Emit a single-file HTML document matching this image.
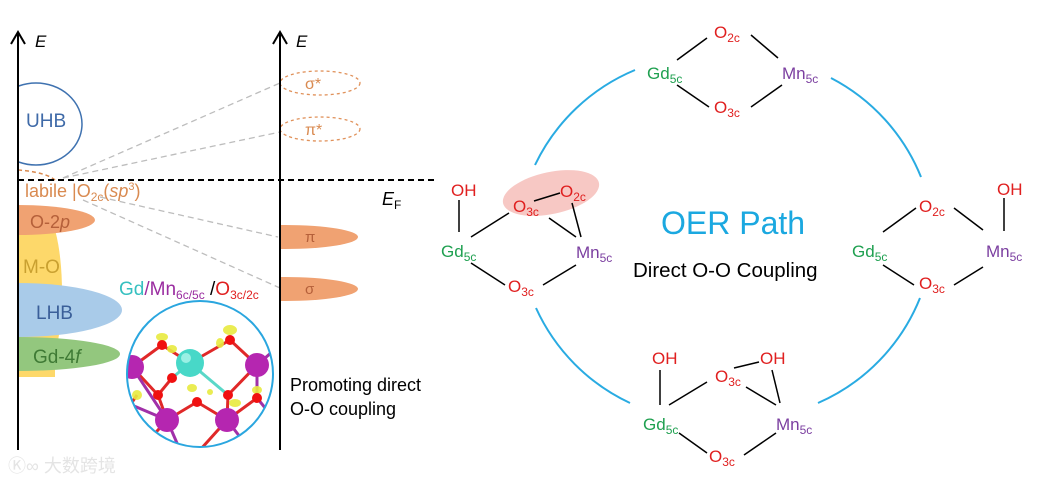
<!DOCTYPE html>
<html><head><meta charset="utf-8"><style>
html,body{margin:0;padding:0;background:#fff;}
svg{display:block;font-family:"Liberation Sans",Arial,sans-serif;}
</style></head><body>
<svg width="1039" height="484" viewBox="0 0 1039 484" xmlns="http://www.w3.org/2000/svg">
<defs>
<clipPath id="rightOfAxis"><rect x="18" y="0" width="400" height="484"/></clipPath>
<clipPath id="rightOfAxis2"><rect x="280" y="0" width="200" height="484"/></clipPath>
<clipPath id="inset"><circle cx="200" cy="374" r="73"/></clipPath>
</defs>

<g clip-path="url(#rightOfAxis)">
  <rect x="10" y="207" width="45" height="170" fill="#fdd86a"/>
  <ellipse cx="40" cy="292" rx="22" ry="85" fill="#fdd86a"/>
  <ellipse cx="18" cy="220" rx="77" ry="15" fill="#f0a272"/>
  <ellipse cx="18" cy="310" rx="104" ry="27" fill="#a9cbe9"/>
  <ellipse cx="18" cy="354" rx="102" ry="17" fill="#93c77e"/>
  <ellipse cx="36" cy="124" rx="46" ry="41" fill="none" stroke="#3f72b0" stroke-width="1.5"/>
  <path d="M18,170 Q45,172 55,180" fill="none" stroke="#d98a50" stroke-width="1.5" stroke-dasharray="4,3"/>
</g>
<text x="26" y="127" font-size="19" fill="#3f6aa8">UHB</text>
<text x="30" y="228" font-size="18" fill="#b5603a">O-2<tspan font-style="italic">p</tspan></text>
<text x="23" y="273" font-size="19" fill="#c9a030">M-O</text>
<text x="36" y="319" font-size="19" fill="#3a5f99">LHB</text>
<text x="33" y="363" font-size="19" fill="#3f7a35">Gd-4<tspan font-style="italic">f</tspan></text>

<g stroke="#bdbdbd" stroke-width="1.3" stroke-dasharray="6,4" fill="none">
  <line x1="63" y1="178" x2="280" y2="83"/>
  <line x1="63" y1="178" x2="280" y2="132"/>
  <line x1="100" y1="197" x2="278" y2="237"/>
  <line x1="83" y1="200" x2="280" y2="288"/>
</g>

<text x="25" y="197" font-size="18" fill="#d98a50">labile |O<tspan font-size="12" dy="4">2c</tspan><tspan dy="-4">(</tspan><tspan font-style="italic">sp</tspan><tspan font-size="11" dy="-7">3</tspan><tspan dy="7">)</tspan></text>

<ellipse cx="320" cy="83" rx="40" ry="12" fill="none" stroke="#e0915a" stroke-width="1.3" stroke-dasharray="3,3"/>
<ellipse cx="320" cy="129" rx="40" ry="12" fill="none" stroke="#e0915a" stroke-width="1.3" stroke-dasharray="3,3"/>
<text x="305" y="89" font-size="16" fill="#d98a50">σ*</text>
<text x="305" y="135" font-size="16" fill="#d98a50">π*</text>
<g clip-path="url(#rightOfAxis2)">
  <ellipse cx="285" cy="237" rx="73" ry="12" fill="#f0a272"/>
  <ellipse cx="285" cy="289" rx="73" ry="12" fill="#f0a272"/>
</g>
<text x="305" y="242" font-size="15" fill="#b5603a">π</text>
<text x="305" y="294" font-size="15" fill="#b5603a">σ</text>

<g stroke="#000" stroke-width="2" fill="none">
  <line x1="18" y1="34" x2="18" y2="450"/>
  <polyline points="11,44 18,32 25,44"/>
  <line x1="280" y1="34" x2="280" y2="450"/>
  <polyline points="273,44 280,32 287,44"/>
</g>
<text x="35" y="47" font-size="17" font-style="italic">E</text>
<text x="296" y="47" font-size="17" font-style="italic">E</text>
<line x1="18" y1="180" x2="437" y2="180" stroke="#000" stroke-width="2" stroke-dasharray="6,4"/>
<text x="382" y="205" font-size="18" font-style="italic">E<tspan font-size="12" font-style="normal" dy="4">F</tspan></text>

<text x="119" y="295" font-size="19"><tspan fill="#36c0c0">Gd</tspan><tspan fill="#9a2ca0">/Mn</tspan><tspan fill="#9a2ca0" font-size="12" dy="4">6c/5c</tspan><tspan fill="#000" dy="-4"> /</tspan><tspan fill="#e02020">O</tspan><tspan fill="#e02020" font-size="12" dy="4">3c/2c</tspan></text>

<g clip-path="url(#inset)">
  <rect x="120" y="295" width="160" height="160" fill="#fff"/>
  <g stroke="#e02828" stroke-width="3">
    <line x1="132" y1="367" x2="162" y2="345"/><line x1="162" y1="345" x2="190" y2="363"/>
    <line x1="257" y1="365" x2="230" y2="340"/><line x1="230" y1="340" x2="190" y2="363"/>
    <line x1="132" y1="367" x2="158" y2="395"/><line x1="158" y1="395" x2="172" y2="378"/>
    <line x1="158" y1="395" x2="167" y2="420"/><line x1="167" y1="420" x2="197" y2="402"/>
    <line x1="197" y1="402" x2="227" y2="420"/><line x1="227" y1="420" x2="228" y2="395"/>
    <line x1="228" y1="395" x2="257" y2="365"/><line x1="257" y1="398" x2="227" y2="420"/>
    <line x1="167" y1="420" x2="140" y2="450"/><line x1="227" y1="420" x2="200" y2="450"/>
    <line x1="137" y1="395" x2="120" y2="420"/>
  </g>
  <g stroke="#a030a8" stroke-width="3">
    <line x1="132" y1="367" x2="120" y2="340"/><line x1="257" y1="365" x2="280" y2="345"/>
    <line x1="132" y1="367" x2="167" y2="420"/><line x1="257" y1="365" x2="257" y2="398"/>
    <line x1="167" y1="420" x2="180" y2="450"/><line x1="227" y1="420" x2="250" y2="450"/>
    <line x1="257" y1="398" x2="275" y2="420"/><line x1="120" y1="400" x2="167" y2="420"/>
  </g>
  <g stroke="#5ad8c8" stroke-width="3">
    <line x1="190" y1="363" x2="228" y2="395"/><line x1="190" y1="363" x2="172" y2="378"/>
  </g>
  <g fill="#b526b0">
    <circle cx="132" cy="367" r="12"/><circle cx="257" cy="365" r="12"/>
    <circle cx="167" cy="420" r="12"/><circle cx="227" cy="420" r="12"/>
  </g>
  <circle cx="190" cy="363" r="14" fill="#48d8c8"/>
  <circle cx="186" cy="358" r="5" fill="#9af0e4"/>
  <g fill="#e8ea40" opacity="0.9">
    <ellipse cx="162" cy="337" rx="6" ry="4"/><ellipse cx="230" cy="330" rx="7" ry="5"/>
    <ellipse cx="220" cy="343" rx="4" ry="5"/><ellipse cx="172" cy="349" rx="5" ry="4"/>
    <ellipse cx="192" cy="388" rx="5" ry="4"/><ellipse cx="235" cy="403" rx="6" ry="4"/>
    <ellipse cx="137" cy="395" rx="5" ry="5"/><ellipse cx="257" cy="390" rx="5" ry="4"/>
    <ellipse cx="210" cy="392" rx="3" ry="3"/>
  </g>
  <g fill="#f01010">
    <circle cx="162" cy="345" r="5"/><circle cx="230" cy="340" r="5"/>
    <circle cx="172" cy="378" r="5"/><circle cx="158" cy="395" r="5"/>
    <circle cx="197" cy="402" r="5"/><circle cx="228" cy="395" r="5"/>
    <circle cx="257" cy="398" r="5"/>
  </g>
</g>
<circle cx="200" cy="374" r="73" fill="none" stroke="#2aa6df" stroke-width="2"/>

<text x="290" y="391" font-size="18">Promoting direct</text>
<text x="290" y="415" font-size="18">O-O coupling</text>

<text x="8" y="472" font-size="18" fill="#e4e4e4" font-family="'Liberation Sans','Noto Sans CJK SC',sans-serif">Ⓚ∞ 大数跨境</text>

<g fill="none" stroke="#29abe2" stroke-width="2">
  <path d="M535,165 A193,193 0 0 1 635,70"/>
  <path d="M831,78 A193,193 0 0 1 921,177"/>
  <path d="M920,298 A193,193 0 0 1 818,403"/>
  <path d="M630,403 A193,193 0 0 1 536,308"/>
</g>

<ellipse cx="551" cy="193" rx="49" ry="21" transform="rotate(-12 551 193)" fill="#f7c8c4"/>

<g stroke="#000" stroke-width="1.5">
  <line x1="677" y1="60" x2="707" y2="38"/><line x1="751" y1="35" x2="778" y2="58"/>
  <line x1="677" y1="85" x2="709" y2="107"/><line x1="751" y1="107" x2="782" y2="85"/>
  <line x1="459" y1="200" x2="459" y2="232"/>
  <line x1="471" y1="237" x2="509" y2="213"/><line x1="534" y1="201" x2="560" y2="193"/>
  <line x1="572" y1="203" x2="581" y2="237"/><line x1="549" y1="218" x2="576" y2="237"/>
  <line x1="471" y1="263" x2="505" y2="285"/><line x1="543" y1="285" x2="576" y2="265"/>
  <line x1="1004" y1="198" x2="1004" y2="231"/>
  <line x1="883" y1="232" x2="916" y2="208"/><line x1="954" y1="208" x2="983" y2="230"/>
  <line x1="883" y1="265" x2="914" y2="285"/><line x1="954" y1="285" x2="983" y2="267"/>
  <line x1="660" y1="370" x2="660" y2="405"/>
  <line x1="669" y1="405" x2="707" y2="382"/><line x1="734" y1="368" x2="759" y2="362"/>
  <line x1="772" y1="370" x2="780" y2="403"/><line x1="746" y1="387" x2="776" y2="405"/>
  <line x1="679" y1="433" x2="707" y2="453"/><line x1="744" y1="455" x2="776" y2="433"/>
</g>

<g font-size="17">
  <text x="714" y="38" fill="#e02020">O<tspan font-size="12" dy="4">2c</tspan></text>
  <text x="647" y="79" fill="#1fa050">Gd<tspan font-size="12" dy="4">5c</tspan></text>
  <text x="782" y="79" fill="#7b3fa0">Mn<tspan font-size="12" dy="4">5c</tspan></text>
  <text x="714" y="113" fill="#e02020">O<tspan font-size="12" dy="4">3c</tspan></text>
  <text x="451" y="196" fill="#e02020">OH</text>
  <text x="441" y="257" fill="#1fa050">Gd<tspan font-size="12" dy="4">5c</tspan></text>
  <text x="513" y="212" fill="#e02020">O<tspan font-size="12" dy="4">3c</tspan></text>
  <text x="560" y="197" fill="#e02020">O<tspan font-size="12" dy="4">2c</tspan></text>
  <text x="576" y="258" fill="#7b3fa0">Mn<tspan font-size="12" dy="4">5c</tspan></text>
  <text x="508" y="292" fill="#e02020">O<tspan font-size="12" dy="4">3c</tspan></text>
  <text x="997" y="195" fill="#e02020">OH</text>
  <text x="919" y="212" fill="#e02020">O<tspan font-size="12" dy="4">2c</tspan></text>
  <text x="852" y="257" fill="#1fa050">Gd<tspan font-size="12" dy="4">5c</tspan></text>
  <text x="986" y="257" fill="#7b3fa0">Mn<tspan font-size="12" dy="4">5c</tspan></text>
  <text x="919" y="289" fill="#e02020">O<tspan font-size="12" dy="4">3c</tspan></text>
  <text x="652" y="364" fill="#e02020">OH</text>
  <text x="760" y="364" fill="#e02020">OH</text>
  <text x="715" y="382" fill="#e02020">O<tspan font-size="12" dy="4">3c</tspan></text>
  <text x="643" y="430" fill="#1fa050">Gd<tspan font-size="12" dy="4">5c</tspan></text>
  <text x="776" y="430" fill="#7b3fa0">Mn<tspan font-size="12" dy="4">5c</tspan></text>
  <text x="709" y="462" fill="#e02020">O<tspan font-size="12" dy="4">3c</tspan></text>
</g>

<text x="661" y="234" font-size="32" fill="#1ba8e0">OER Path</text>
<text x="633" y="277" font-size="20.5" fill="#000">Direct O-O Coupling</text>
</svg>
</body></html>
